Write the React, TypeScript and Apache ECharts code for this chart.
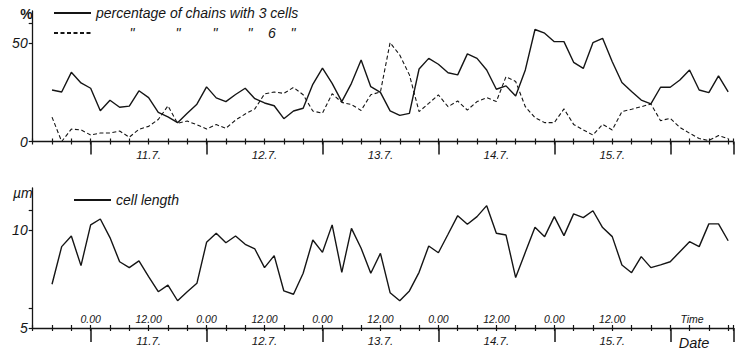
import React, { useEffect, useRef } from "react";
import * as echarts from "echarts";

// hours relative to 0:00 on 11.7.
const hours = [
  -8, -6, -4, -2, 0, 2, 4, 6, 8, 10,
  12, 14, 16, 18, 20, 22, 24, 26, 28, 30,
  32, 34, 36, 38, 40, 42, 44, 46, 48, 50,
  52, 54, 56, 58, 60, 62, 64, 66, 68, 70,
  72, 74, 76, 78, 80, 82, 84, 86, 88, 90,
  92, 94, 96, 98, 100, 102, 104, 106, 108, 110,
  112, 114, 116, 118, 120, 122, 124, 126, 128, 130,
  132,
];

const chains3 = [
  26.2, 25.2, 35.2, 29.8, 27.1, 15.6, 21.0, 17.4, 18.0, 25.8,
  22.3, 14.8, 12.5, 9.6, 14.4, 19.0, 27.8, 22.2, 20.3, 23.9,
  27.1, 21.8, 19.6, 18.2, 11.6, 15.5, 16.9, 29.1, 37.3, 29.6,
  20.3, 29.6, 41.5, 27.9, 25.0, 15.6, 13.3, 14.3, 36.9, 42.3,
  39.3, 35.0, 33.9, 44.6, 42.3, 36.4, 26.6, 28.3, 23.2, 36.4,
  57.0, 55.1, 50.8, 50.8, 40.3, 37.2, 50.3, 52.5, 40.6, 30.0,
  25.4, 21.1, 19.1, 27.6, 27.6, 31.3, 36.4, 26.2, 24.9, 33.4,
  25.2,
];

const chains6 = [
  12.4, 0, 6.3, 5.9, 3.3, 4.3, 4.3, 5.3, 2.2, 6.2,
  7.7, 11.2, 18.1, 9.3, 10.4, 8.5, 6.4, 8.6, 6.7, 10.9,
  14.0, 16.6, 24.2, 25.2, 24.5, 27.5, 23.8, 15.5, 14.4, 24.3,
  19.9, 18.8, 15.8, 23.8, 25.2, 50.3, 44.0, 33.9, 15.2, 19.4,
  23.7, 17.7, 20.6, 16.0, 20.3, 22.3, 20.3, 33.0, 30.5, 17.7,
  12.1, 9.6, 9.6, 16.6, 8.7, 5.9, 3.3, 8.7, 5.9, 15.2,
  16.4, 17.7, 19.1, 10.6, 11.8, 7.2, 4.2, 1.5, 0.5, 3.0,
  1.5,
];

const cellLength = [
  7.23, 9.15, 9.69, 8.18, 10.26, 10.56, 9.61, 8.38, 8.08, 8.42,
  7.62, 6.85, 7.19, 6.39, 6.85, 7.28, 9.37, 9.83, 9.35, 9.69,
  9.27, 9.03, 8.08, 8.69, 6.89, 6.72, 7.79, 9.49, 8.86, 10.26,
  7.84, 10.08, 9.07, 7.79, 8.81, 6.8, 6.39, 6.89, 7.84, 9.18,
  8.84, 9.78, 10.73, 10.29, 10.68, 11.24, 9.83, 9.74, 7.57, 8.86,
  10.14, 9.66, 10.68, 9.71, 10.82, 10.63, 10.98, 10.12, 9.66, 8.21,
  7.82, 8.64, 8.08, 8.22, 8.38, 8.89, 9.40, 9.15, 10.31, 10.31,
  9.45,
];

const dateLabels = ["11.7.", "12.7.", "13.7.", "14.7.", "15.7."];
const timeLabels = ["0.00", "12.00"];
const timeAt = [0, 12, 24, 36, 48, 60, 72, 84, 96, 108];
const dateAt = [12, 36, 60, 84, 108];
const axisNameAt = 124;

const S3 = "percentage of chains with 3 cells";
const S6 = "percentage of chains with 6 cells";
const SL = "cell length";

const INK = "#151515";
const FONT = "Liberation Sans";

const txt = (size: number, extra: any = {}) => ({
  color: INK,
  fontFamily: FONT,
  fontStyle: "italic",
  fontSize: size,
  ...extra,
});

export default function App() {
  const ref = useRef<HTMLDivElement>(null);
  useEffect(() => {
    document.body.style.margin = "0";
    const chart = echarts.init(ref.current!, null, { renderer: "svg" });
    const L = 32.7;
    const R = 2.5;
    const L0 = 90.7;
    const topG = { top: 11, bottom: 208.5 };
    const botG = { top: 188, bottom: 22 };

    const dateFmt = (withName: boolean) => (v: number) => {
      const k = dateAt.indexOf(v);
      if (k >= 0) return dateLabels[k];
      if (withName && v === axisNameAt) return "{big|Date}";
      return "";
    };
    const timeFmt = (v: number) => {
      if (v === axisNameAt) return "{nm|Time}";
      if (timeAt.indexOf(v) < 0) return "";
      return v % 24 === 0 ? timeLabels[0] : timeLabels[1];
    };

    const common = {
      type: "value",
      position: "bottom",
      min: -12,
      max: 133,
      interval: 4,
      splitLine: { show: false },
    };
    const baseX = (gridIndex: number) => ({
      ...common,
      gridIndex,
      axisLine: { show: true, onZero: false, lineStyle: { color: INK, width: 1.4 } },
      axisTick: { show: true, length: 3, lineStyle: { color: INK, width: 1.2 } },
      axisLabel: { show: false },
    });
    const innerTickX = (gridIndex: number, labels: any) => ({
      ...common,
      gridIndex,
      axisLine: { show: false, onZero: false },
      axisTick: { show: true, inside: true, length: 3, lineStyle: { color: INK, width: 1.2 } },
      axisLabel: labels,
    });
    const dateX = (gridIndex: number, withName: boolean) => ({
      ...common,
      gridIndex,
      axisLine: { show: false, onZero: false },
      axisTick: { show: false },
      axisLabel: {
        show: true,
        margin: 7,
        formatter: dateFmt(withName),
        ...txt(11.5),
        rich: { big: txt(14.5, { padding: [0, 0, 0, 9] }) },
      },
    });
    const majorX = (gridIndex: number, len: number) => ({
      type: "value",
      position: "bottom",
      gridIndex,
      min: 0,
      max: 133,
      interval: 24,
      axisLine: { show: false, onZero: false },
      axisTick: { show: true, length: len, lineStyle: { color: INK, width: 1.5 } },
      axisLabel: { show: false },
      splitLine: { show: false },
    });
    const hiddenY = (gridIndex: number) => ({
      type: "value",
      gridIndex,
      min: 0,
      max: 1,
      axisLine: { show: false, onZero: false },
      axisTick: { show: false },
      axisLabel: { show: false },
      splitLine: { show: false },
    });

    chart.setOption({
      animation: false,
      backgroundColor: "#ffffff",
      grid: [
        { left: L, right: R, ...topG },
        { left: L0, right: R, ...topG },
        { left: L, right: R, ...botG },
        { left: L0, right: R, ...botG },
      ],
      xAxis: [
        baseX(0),
        dateX(0, false),
        innerTickX(0, { show: false }),
        majorX(1, 13),
        baseX(2),
        dateX(2, true),
        innerTickX(2, {
          show: true,
          inside: true,
          margin: 4,
          formatter: timeFmt,
          ...txt(10.5),
          rich: { nm: txt(10.5, { padding: [0, 0, 0, 5] }) },
        }),
        majorX(3, 14),
      ],
      yAxis: [
        {
          type: "value",
          gridIndex: 0,
          position: "left",
          min: 0,
          max: 66.4,
          interval: 10,
          name: "%",
          nameLocation: "end",
          nameGap: -10,
          nameTextStyle: txt(14, { fontWeight: "bold", align: "right", verticalAlign: "bottom", fontStyle: "normal" }),
          axisLine: { show: true, onZero: false, lineStyle: { color: INK, width: 1.3 } },
          axisTick: { show: true, length: 4, customValues: [0, 50, 60], lineStyle: { color: INK, width: 1.2 } },
          axisLabel: {
            show: true,
            margin: 5,
            customValues: [0, 50],
            formatter: (v: number) => (v === 0 || v === 50 ? String(v) : ""),
            ...txt(14),
          },
          splitLine: { show: false },
        },
        hiddenY(1),
        {
          type: "value",
          gridIndex: 2,
          position: "left",
          min: 5,
          max: 12.14,
          interval: 1,
          name: "µm",
          nameLocation: "end",
          nameGap: -12,
          nameTextStyle: txt(14, { align: "right", verticalAlign: "bottom" }),
          axisLine: { show: true, onZero: false, lineStyle: { color: INK, width: 1.3 } },
          axisTick: { show: true, length: 4, customValues: [5, 6, 10, 11], lineStyle: { color: INK, width: 1.2 } },
          axisLabel: {
            show: true,
            margin: 5,
            customValues: [5, 10],
            formatter: (v: number) => (v === 5 || v === 10 ? String(v) : ""),
            ...txt(14),
          },
          splitLine: { show: false },
        },
        hiddenY(3),
      ],
      legend: [
        {
          data: [S3, S6],
          orient: "vertical",
          left: 53,
          top: 5,
          padding: 0,
          itemWidth: 37,
          itemHeight: 12,
          itemGap: 4,
          selectedMode: false,
          itemStyle: { opacity: 0 },
          textStyle: {
            ...txt(14),
            lineHeight: 16,
            rich: {
              g1: { width: 33 },
              g2: { width: 40 },
              g3: { width: 31 },
              g4: { width: 29 },
              g5: { width: 16 },
              g6: { width: 15 },
              q: txt(14, { width: 6, align: "center" }),
            },
          },
          formatter: (name: string) =>
            name === S3
              ? name
              : '{g1| }{q|"}{g2| }{q|"}{g3| }{q|"}{g4| }{q|"}{g5| }{q|6}{g6| }{q|"}',
        },
        {
          data: [SL],
          left: 73,
          top: 193,
          padding: 0,
          itemWidth: 37,
          itemHeight: 12,
          selectedMode: false,
          itemStyle: { opacity: 0 },
          textStyle: txt(14),
        },
      ],
      series: [
        {
          name: S3,
          type: "line",
          xAxisIndex: 0,
          yAxisIndex: 0,
          symbol: "none",
          lineStyle: { color: INK, width: 1.4 },
          itemStyle: { color: INK },
          data: hours.map((h, i) => [h, chains3[i]]),
        },
        {
          name: S6,
          type: "line",
          xAxisIndex: 0,
          yAxisIndex: 0,
          symbol: "none",
          lineStyle: { color: INK, width: 1.1, type: [4, 2.5] },
          itemStyle: { color: INK },
          data: hours.map((h, i) => [h, chains6[i]]),
        },
        {
          name: SL,
          type: "line",
          xAxisIndex: 4,
          yAxisIndex: 2,
          symbol: "none",
          lineStyle: { color: INK, width: 1.4 },
          itemStyle: { color: INK },
          data: hours.map((h, i) => [h, cellLength[i]]),
        },
      ],
    });
    return () => chart.dispose();
  }, []);
  return <div ref={ref} style={{ width: 736, height: 350 }} />;
}
